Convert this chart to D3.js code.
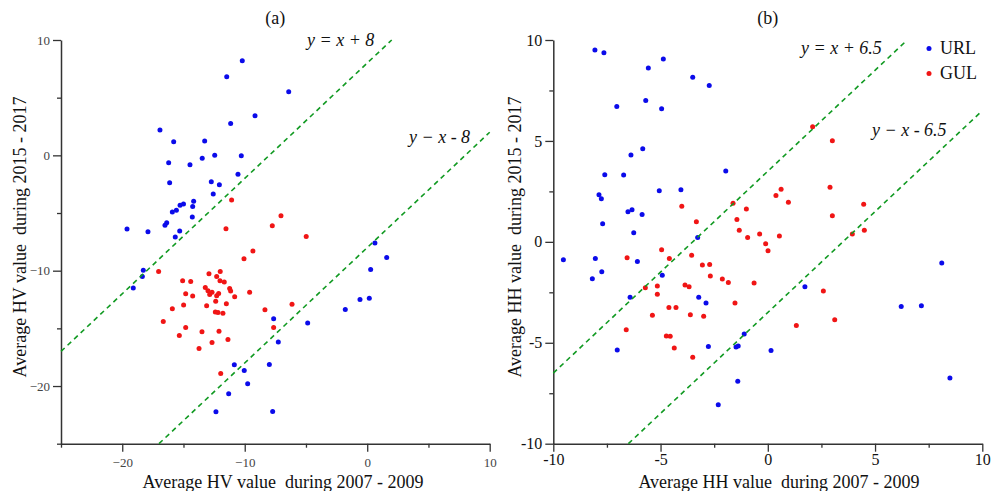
<!DOCTYPE html>
<html>
<head>
<meta charset="utf-8">
<style>
  body { margin: 0; background: #fff; }
  svg text { font-family: "Liberation Serif", "Times New Roman", serif; fill: #111; }
  .ttl { white-space: pre; }
</style>
</head>
<body>
<svg id="chart" width="991" height="491"></svg>
<script src="https://d3js.org/d3.v7.min.js"></script>
<script>
// ---- data ----
// (a) HV: [2007-2009, 2015-2017]
var hvURL = [[-10.2,8.2],[-11.47,6.82],[-6.41,5.52],[-9.16,3.44],[-11.15,2.77],[-16.92,2.19],[-15.8,1.18],
  [-13.27,1.24],[-13.47,-0.26],[-12.45,0.0],[-10.28,-0.03],[-16.21,-0.64],[-14.47,-0.81],[-10.55,-1.65],
  [-16.13,-2.38],[-12.73,-2.29],[-12.07,-2.55],[-12.57,-3.36],[-14.17,-3.99],[-15.28,-4.33],[-15.0,-4.22],
  [-14.25,-4.43],[-15.91,-4.92],[-15.58,-4.77],[-14.28,-5.35],[-16.37,-5.85],[-16.51,-6.07],[-19.61,-6.39],
  [-17.9,-6.63],[-15.31,-6.57],[-15.67,-7.09],[-18.28,-9.97],[-18.36,-10.5],[-19.1,-11.5],[-7.64,-14.17],
  [-4.86,-14.54],[-7.26,-16.19],[-10.85,-18.16],[-10.04,-18.65],[-7.99,-18.13],[-9.76,-19.81],[-11.31,-20.67],
  [-12.35,-22.24],[-7.72,-22.2],[0.63,-7.6],[1.59,-8.85],[0.28,-9.89],[0.17,-12.38],[-0.59,-12.49],[-1.79,-13.36]];
var hvGUL = [[-11.07,-3.88],[-7.04,-5.24],[-11.53,-6.36],[-7.75,-6.1],[-4.98,-7.03],[-9.33,-8.3],[-10.06,-8.97],
  [-17.03,-10.06],[-12.92,-10.27],[-12.0,-10.06],[-15.07,-10.88],[-14.41,-10.93],[-12.29,-10.5],[-12.02,-10.88],
  [-11.67,-10.99],[-13.22,-11.45],[-13.0,-11.74],[-12.67,-11.88],[-12.86,-12.06],[-12.13,-11.97],[-12.29,-12.18],
  [-11.23,-11.54],[-11.15,-11.77],[-10.82,-12.26],[-9.6,-11.88],[-14.82,-12.0],[-14.25,-12.2],[-14.99,-12.98],
  [-13.11,-13.04],[-12.37,-12.64],[-11.5,-12.87],[-15.91,-13.3],[-12.4,-13.59],[-12.18,-13.62],[-11.78,-13.7],
  [-8.35,-13.39],[-6.14,-12.9],[-16.65,-14.4],[-14.82,-14.92],[-7.64,-14.92],[-15.34,-15.61],[-13.49,-15.3],
  [-12.1,-15.24],[-11.37,-15.96],[-12.67,-16.22],[-13.73,-16.74],[-11.96,-18.91]];

// (b) HH
var hhURL = [[-8.06,9.5],[-7.64,9.37],[-4.87,9.06],[-5.57,8.61],[-3.5,8.15],[-2.73,7.74],[-7.04,6.7],[-5.69,7.0],
  [-4.95,6.6],[-5.83,4.61],[-6.38,4.3],[-7.6,3.33],[-6.72,3.31],[-1.96,3.51],[-7.87,2.33],[-7.76,2.14],[-5.06,2.53],
  [-4.05,2.58],[-6.52,1.49],[-6.33,1.59],[-5.86,1.36],[-7.7,0.9],[-6.25,0.45],[-3.27,0.22],[-9.53,-0.89],
  [-8.04,-0.82],[-6.08,-0.97],[-7.74,-1.48],[-8.18,-1.83],[-4.92,-1.66],[-6.42,-2.75],[-3.22,-2.75],[-2.88,-3.03],
  [-7.02,-5.36],[-2.77,-5.18],[-1.48,-5.21],[-1.38,-5.16],[-1.1,-4.57],[-1.4,-6.9],[-2.31,-8.07],[1.73,-2.22],
  [0.15,-5.38],[8.11,-1.05],[6.22,-3.2],[7.16,-3.17],[8.49,-6.75]];
var hhGUL = [[2.09,5.7],[3.01,5.01],[2.9,2.7],[0.62,2.6],[0.38,2.3],[0.96,1.96],[-1.62,1.91],[-1.0,1.63],
  [-4.01,1.76],[-1.44,1.11],[-3.33,1.0],[-1.33,0.57],[-0.94,0.22],[-0.38,0.39],[0.54,0.29],[-0.1,-0.09],
  [0.01,-0.44],[4.47,1.86],[3.01,1.29],[4.5,0.58],[3.94,0.39],[-4.95,-0.39],[-6.56,-0.79],[-4.59,-0.82],
  [-3.55,-0.67],[-3.05,-1.15],[-2.71,-1.12],[-2.68,-1.69],[-2.12,-1.84],[-1.84,-2.01],[-0.64,-2.04],
  [-3.86,-2.14],[-3.67,-2.22],[-5.71,-2.27],[-5.15,-2.19],[-5.15,-2.59],[-1.53,-3.03],[-4.61,-3.25],
  [-4.28,-3.25],[-5.38,-3.64],[-3.61,-3.61],[-2.99,-3.68],[-6.6,-4.36],[-4.73,-4.67],[-4.55,-4.68],
  [-4.36,-5.26],[-3.5,-5.72],[1.33,-4.14],[2.59,-2.44],[3.12,-3.86]];

// reference lines y = x + c, as drawn
var hvLines = [8, -8];
var hvLineLabels = ["y = x + 8", "y \u2212 x - 8"];
var hhLines = [3.5, -3.5];
var hhLineLabels = ["y = x + 6.5", "y \u2212 x - 6.5"];

var hvMajor = [-20, -10, 0, 10], hvMinor = [-25, -15, -5, 5];
var hhMajor = [-10, -5, 0, 5, 10], hhMinor = [-7.5, -2.5, 2.5, 7.5];
var seriesNames = ["URL", "GUL"];

var BLUE = "#0b0bea", RED = "#f01515", GREEN = "#119a22";
var svg = d3.select("#chart");

function panel(o) {
  var x = d3.scaleLinear().domain(o.dom).range([o.x0, o.x1]);
  var y = d3.scaleLinear().domain(o.dom).range([o.y0, o.y1]);
  var g = svg.append("g");

  // minor ticks
  g.append("g").attr("transform", "translate(0," + o.y0 + ")")
    .call(d3.axisBottom(x).tickValues(o.minor).tickSize(4).tickFormat(""))
    .call(function (s) { s.select(".domain").remove(); });
  g.append("g").attr("transform", "translate(" + o.x0 + ",0)")
    .call(d3.axisLeft(y).tickValues(o.minor).tickSize(4).tickFormat(""))
    .call(function (s) { s.select(".domain").remove(); });

  var ax = g.append("g").attr("transform", "translate(0," + o.y0 + ")")
    .call(d3.axisBottom(x).tickValues(o.major).tickSize(8).tickSizeOuter(0).tickPadding(o.xPad).tickFormat(o.fmt));
  var ay = g.append("g").attr("transform", "translate(" + o.x0 + ",0)")
    .call(d3.axisLeft(y).tickValues(o.major).tickSize(8).tickSizeOuter(0).tickPadding(3).tickFormat(o.fmt));
  [ax, ay].forEach(function (a) {
    a.selectAll("text").attr("font-size", o.tickFont).style("fill", o.tickColor);
  });
  g.selectAll(".tick line").attr("stroke", "#333").attr("stroke-width", 1.3);
  g.selectAll(".domain").attr("stroke", "#333").attr("stroke-width", 1.5);

  // points
  var pts = g.append("g");
  pts.selectAll(".u").data(o.blue).enter().append("circle")
    .attr("cx", function (d) { return x(d[0]); }).attr("cy", function (d) { return y(d[1]); })
    .attr("r", 2.5).attr("fill", BLUE);
  pts.selectAll(".r").data(o.red).enter().append("circle")
    .attr("cx", function (d) { return x(d[0]); }).attr("cy", function (d) { return y(d[1]); })
    .attr("r", 2.5).attr("fill", RED);

  // dashed lines clipped to the square domain
  var lo = o.dom[0], hi = o.dom[1];
  g.selectAll(".ref").data(o.lines).enter().append("line")
    .attr("x1", function (c) { return x(Math.max(lo, lo - c)); })
    .attr("y1", function (c) { return y(Math.max(lo, lo - c) + c); })
    .attr("x2", function (c) { return x(Math.min(hi, hi - c)); })
    .attr("y2", function (c) { return y(Math.min(hi, hi - c) + c); })
    .attr("stroke", GREEN).attr("stroke-width", 1.6).attr("stroke-dasharray", "5,4");

  o.labels.forEach(function (t, i) {
    g.append("text").attr("x", o.labelPos[i][0]).attr("y", o.labelPos[i][1])
      .attr("font-size", 18).attr("font-style", "italic").text(t);
  });

  g.append("text").attr("x", (o.x0 + o.x1) / 2).attr("y", 24).attr("text-anchor", "middle")
    .attr("font-size", 18).text(o.title);
  g.append("text").attr("class", "ttl").attr("x", o.xTitleX).attr("y", 488).attr("text-anchor", "middle")
    .attr("font-size", 18).text(o.xTitle);
  g.append("text").attr("class", "ttl").attr("text-anchor", "middle").attr("font-size", 18)
    .attr("transform", "translate(" + o.yTitleX + "," + o.yTitleY + ") rotate(-90)").text(o.yTitle);
  return g;
}

panel({
  dom: [-25, 10], x0: 61, x1: 489.7, y0: 443.7, y1: 40,
  major: hvMajor, minor: hvMinor, fmt: d3.format("d"), tickFont: 13, tickColor: "#444", xPad: 6,
  blue: hvURL, red: hvGUL, lines: hvLines, labels: hvLineLabels,
  labelPos: [[307, 46], [409, 143]],
  title: "(a)", xTitle: "Average HV value  during 2007 - 2009", xTitleX: 283,
  yTitle: "Average HV value  during 2015 - 2017", yTitleX: 26, yTitleY: 237
});

var gb = panel({
  dom: [-10, 10], x0: 553.3, x1: 982.3, y0: 443.7, y1: 40,
  major: hhMajor, minor: hhMinor, fmt: function (d) { return String(d); }, tickFont: 16, tickColor: "#111", xPad: 2,
  blue: hhURL, red: hhGUL, lines: hhLines, labels: hhLineLabels,
  labelPos: [[801, 54], [872, 136]],
  title: "(b)", xTitle: "Average HH value  during 2007 - 2009", xTitleX: 779,
  yTitle: "Average HH value  during 2015 - 2017", yTitleX: 521, yTitleY: 237
});

// legend
var leg = gb.append("g").selectAll("g").data(seriesNames).enter().append("g")
  .attr("transform", function (d, i) { return "translate(929," + (48.5 + i * 25) + ")"; });
leg.append("circle").attr("r", 2.5).attr("fill", function (d, i) { return i ? RED : BLUE; });
leg.append("text").attr("x", 11).attr("y", 5.5).attr("font-size", 18).text(function (d) { return d; });
</script>
</body>
</html>
